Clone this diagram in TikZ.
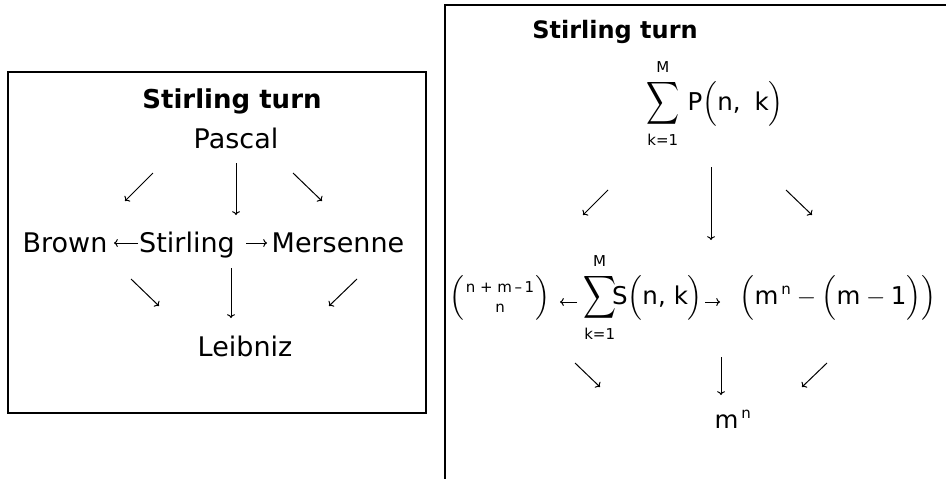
\documentclass[tikz,border=0pt]{standalone}
\usepackage{amsmath}
\usepackage{fontspec}
\setmainfont{DejaVu Sans}
\usetikzlibrary{arrows.meta}
% taller sum sign, smaller scripts
\newcommand{\bigsum}{\mathop{\vcenter{\hbox{\scalebox{0.92}[1.2]{$\displaystyle\sum$}}}}\limits}
\newcommand{\scr}[1]{\text{\fontsize{15}{18}\selectfont #1}}
\newcommand{\up}[1]{\raisebox{2pt}{\scr{#1}}}
\newcommand{\dn}[1]{\raisebox{-3pt}{\scr{#1}}}

\begin{document}
\begin{tikzpicture}[x=1pt, y=-1pt, >={To}, line width=1pt,
    frame/.style={draw, line width=2pt},
    word/.style={inner sep=0pt, anchor=base, font=\fontsize{27}{33}\selectfont},
    heading/.style={word, font=\fontsize{26}{31}\selectfont\bfseries},
    formula/.style={inner sep=0pt, anchor=base, font=\fontsize{24.5}{29}\selectfont},
    smallheading/.style={formula, font=\fontsize{24}{29}\selectfont\bfseries}]
  \useasboundingbox (0,0) rectangle (946,479);

  % left box: names
  \draw[frame] (8,72) rectangle (426,413);
  \node[heading] (ltitle) at (232,108) {Stirling turn};
  \node[word] (pascal) at (236,148) {Pascal};
  \node[word] (brown) at (65,252) {Brown};
  \node[word] (stirling) at (187,252) {Stirling};
  \node[word] (mersenne) at (338,252) {Mersenne};
  \node[word] (leibniz) at (245,356) {Leibniz};

  \draw[->] ([shift={(-83,25)}]pascal.base) -- ([shift={(60,-51)}]brown.base);
  \draw[->] ([shift={(0,15)}]pascal.base) -- ([shift={(49,-37)}]stirling.base);
  \draw[->] ([shift={(57,25)}]pascal.base) -- ([shift={(-16,-51)}]mersenne.base);
  \draw[->] ([shift={(-49,-9)}]stirling.base) -- ([shift={(49,-9)}]brown.base);
  \draw[->] ([shift={(59,-9)}]stirling.base) -- ([shift={(-71,-9)}]mersenne.base);
  \draw[->] ([shift={(66,27)}]brown.base) -- ([shift={(-86,-50)}]leibniz.base);
  \draw[->] ([shift={(44,16)}]stirling.base) -- ([shift={(-14,-38)}]leibniz.base);
  \draw[->] ([shift={(19,27)}]mersenne.base) -- ([shift={(84,-50)}]leibniz.base);

  % right box: counts
  \draw[frame] (445,479) -- (445,5) -- (946,5);
  \node[smallheading] (rtitle) at (615,38) {Stirling turn};
  \node[formula] (psum) at (715,110)
    {$\bigsum_{\dn{k=1}}^{\up{M}}\,\text{P}\Bigl(\text{n,\hspace{14pt}k}\Bigr)$};
  \node[formula] (binom) at (500,304)
    {$\Bigl(\genfrac{}{}{0pt}{1}{\scr{n + m\,–\,1}}{\scr{n}}\Bigr)$};
  \node[formula] (ssum) at (643,304)
    {$\bigsum_{\dn{k=1}}^{\up{M}}\!\!\text{S}\Bigl(\text{n,\hspace{8pt}k}\Bigr)$};
  \node[formula] (rpart) at (838,304)
    {$\Bigl(\text{m}^{\,\scr{n}} - \Bigl(\text{m} - \text{1}\Bigr)\Bigr)$};
  \node[formula] (mn) at (733,428) {$\text{m}^{\,\scr{n}}$};

  \draw[->] ([shift={(-107,80)}]psum.base) -- ([shift={(83,-89)}]binom.base);
  \draw[->] ([shift={(-4,57)}]psum.base) -- ([shift={(68,-64)}]ssum.base);
  \draw[->] ([shift={(71,80)}]psum.base) -- ([shift={(-26,-89)}]rpart.base);
  \draw[->] ([shift={(-66,-2)}]ssum.base) -- ([shift={(60,-2)}]binom.base);
  \draw[->] ([shift={(62,-2)}]ssum.base) -- ([shift={(-118,-2)}]rpart.base);
  \draw[->] ([shift={(75,59)}]binom.base) -- ([shift={(-133,-41)}]mn.base);
  \draw[->] ([shift={(78,53)}]ssum.base) -- ([shift={(-12,-33)}]mn.base);
  \draw[->] ([shift={(-11,59)}]rpart.base) -- ([shift={(69,-41)}]mn.base);
\end{tikzpicture}
\end{document}
